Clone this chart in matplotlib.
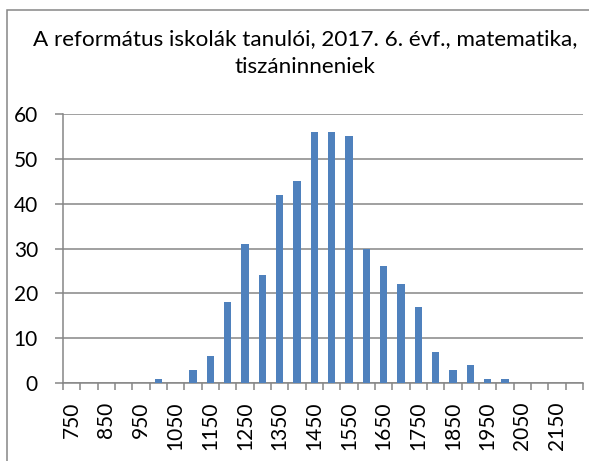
import matplotlib
matplotlib.use("Agg")
import matplotlib.pyplot as plt
import numpy as np
from matplotlib.patches import Rectangle

plt.rcParams['font.family'] = ['Lato', 'DejaVu Sans']

# score bins (lower bound), every 50 points
categories = list(range(750, 2201, 50))
counts = [0, 0, 0, 0, 0, 1, 0, 3, 6, 18, 31, 24, 42, 45, 56,
          56, 55, 30, 26, 22, 17, 7, 3, 4, 1, 1, 0, 0, 0, 0]
title = "A református iskolák tanulói, 2017. 6. évf., matematika,\ntiszáninneniek"
y_ticks = [0, 10, 20, 30, 40, 50, 60]

grid_col = '#868686'
bar_col = '#4F81BD'

fig = plt.figure(figsize=(5.89, 4.61), dpi=100)
ax = fig.add_axes([63 / 589, 78 / 461, 520 / 589, 269 / 461])

x = np.arange(len(categories))
ax.bar(x, counts, width=0.42, color=bar_col, zorder=3)

ax.set_xlim(-0.5, len(categories) - 0.5)
ax.set_ylim(0, 60)
ax.set_yticks(y_ticks)
ax.yaxis.grid(True, color=grid_col, lw=1.1, zorder=0)

# labels on every other category, tick marks on category boundaries
ax.set_xticks(x[::2])
ax.set_xticklabels([str(c) for c in categories[::2]], rotation=90, fontsize=15)
ax.set_xticks(np.arange(-0.5, len(categories)), minor=True)
ax.tick_params(axis='x', which='major', length=0, pad=13.5)
ax.tick_params(axis='x', which='minor', length=5, color=grid_col, width=1.1)
ax.tick_params(axis='y', length=6, color=grid_col, width=1.1, labelsize=15, pad=12)

for side in ['top', 'right']:
    ax.spines[side].set_visible(False)
for side in ['left', 'bottom']:
    ax.spines[side].set_color(grid_col)
    ax.spines[side].set_linewidth(1.1)

fig.text(0.518, 0.885, title, ha='center', va='center', fontsize=16.2, linespacing=1.5)

# chart outer border (cut by image edge)
fig.patches.append(Rectangle((7 / 589, -0.05), 1.0, 0.05 + 451 / 461,
                             transform=fig.transFigure, fill=False,
                             edgecolor=grid_col, lw=1.1))

fig.savefig('out.png', dpi=100)
